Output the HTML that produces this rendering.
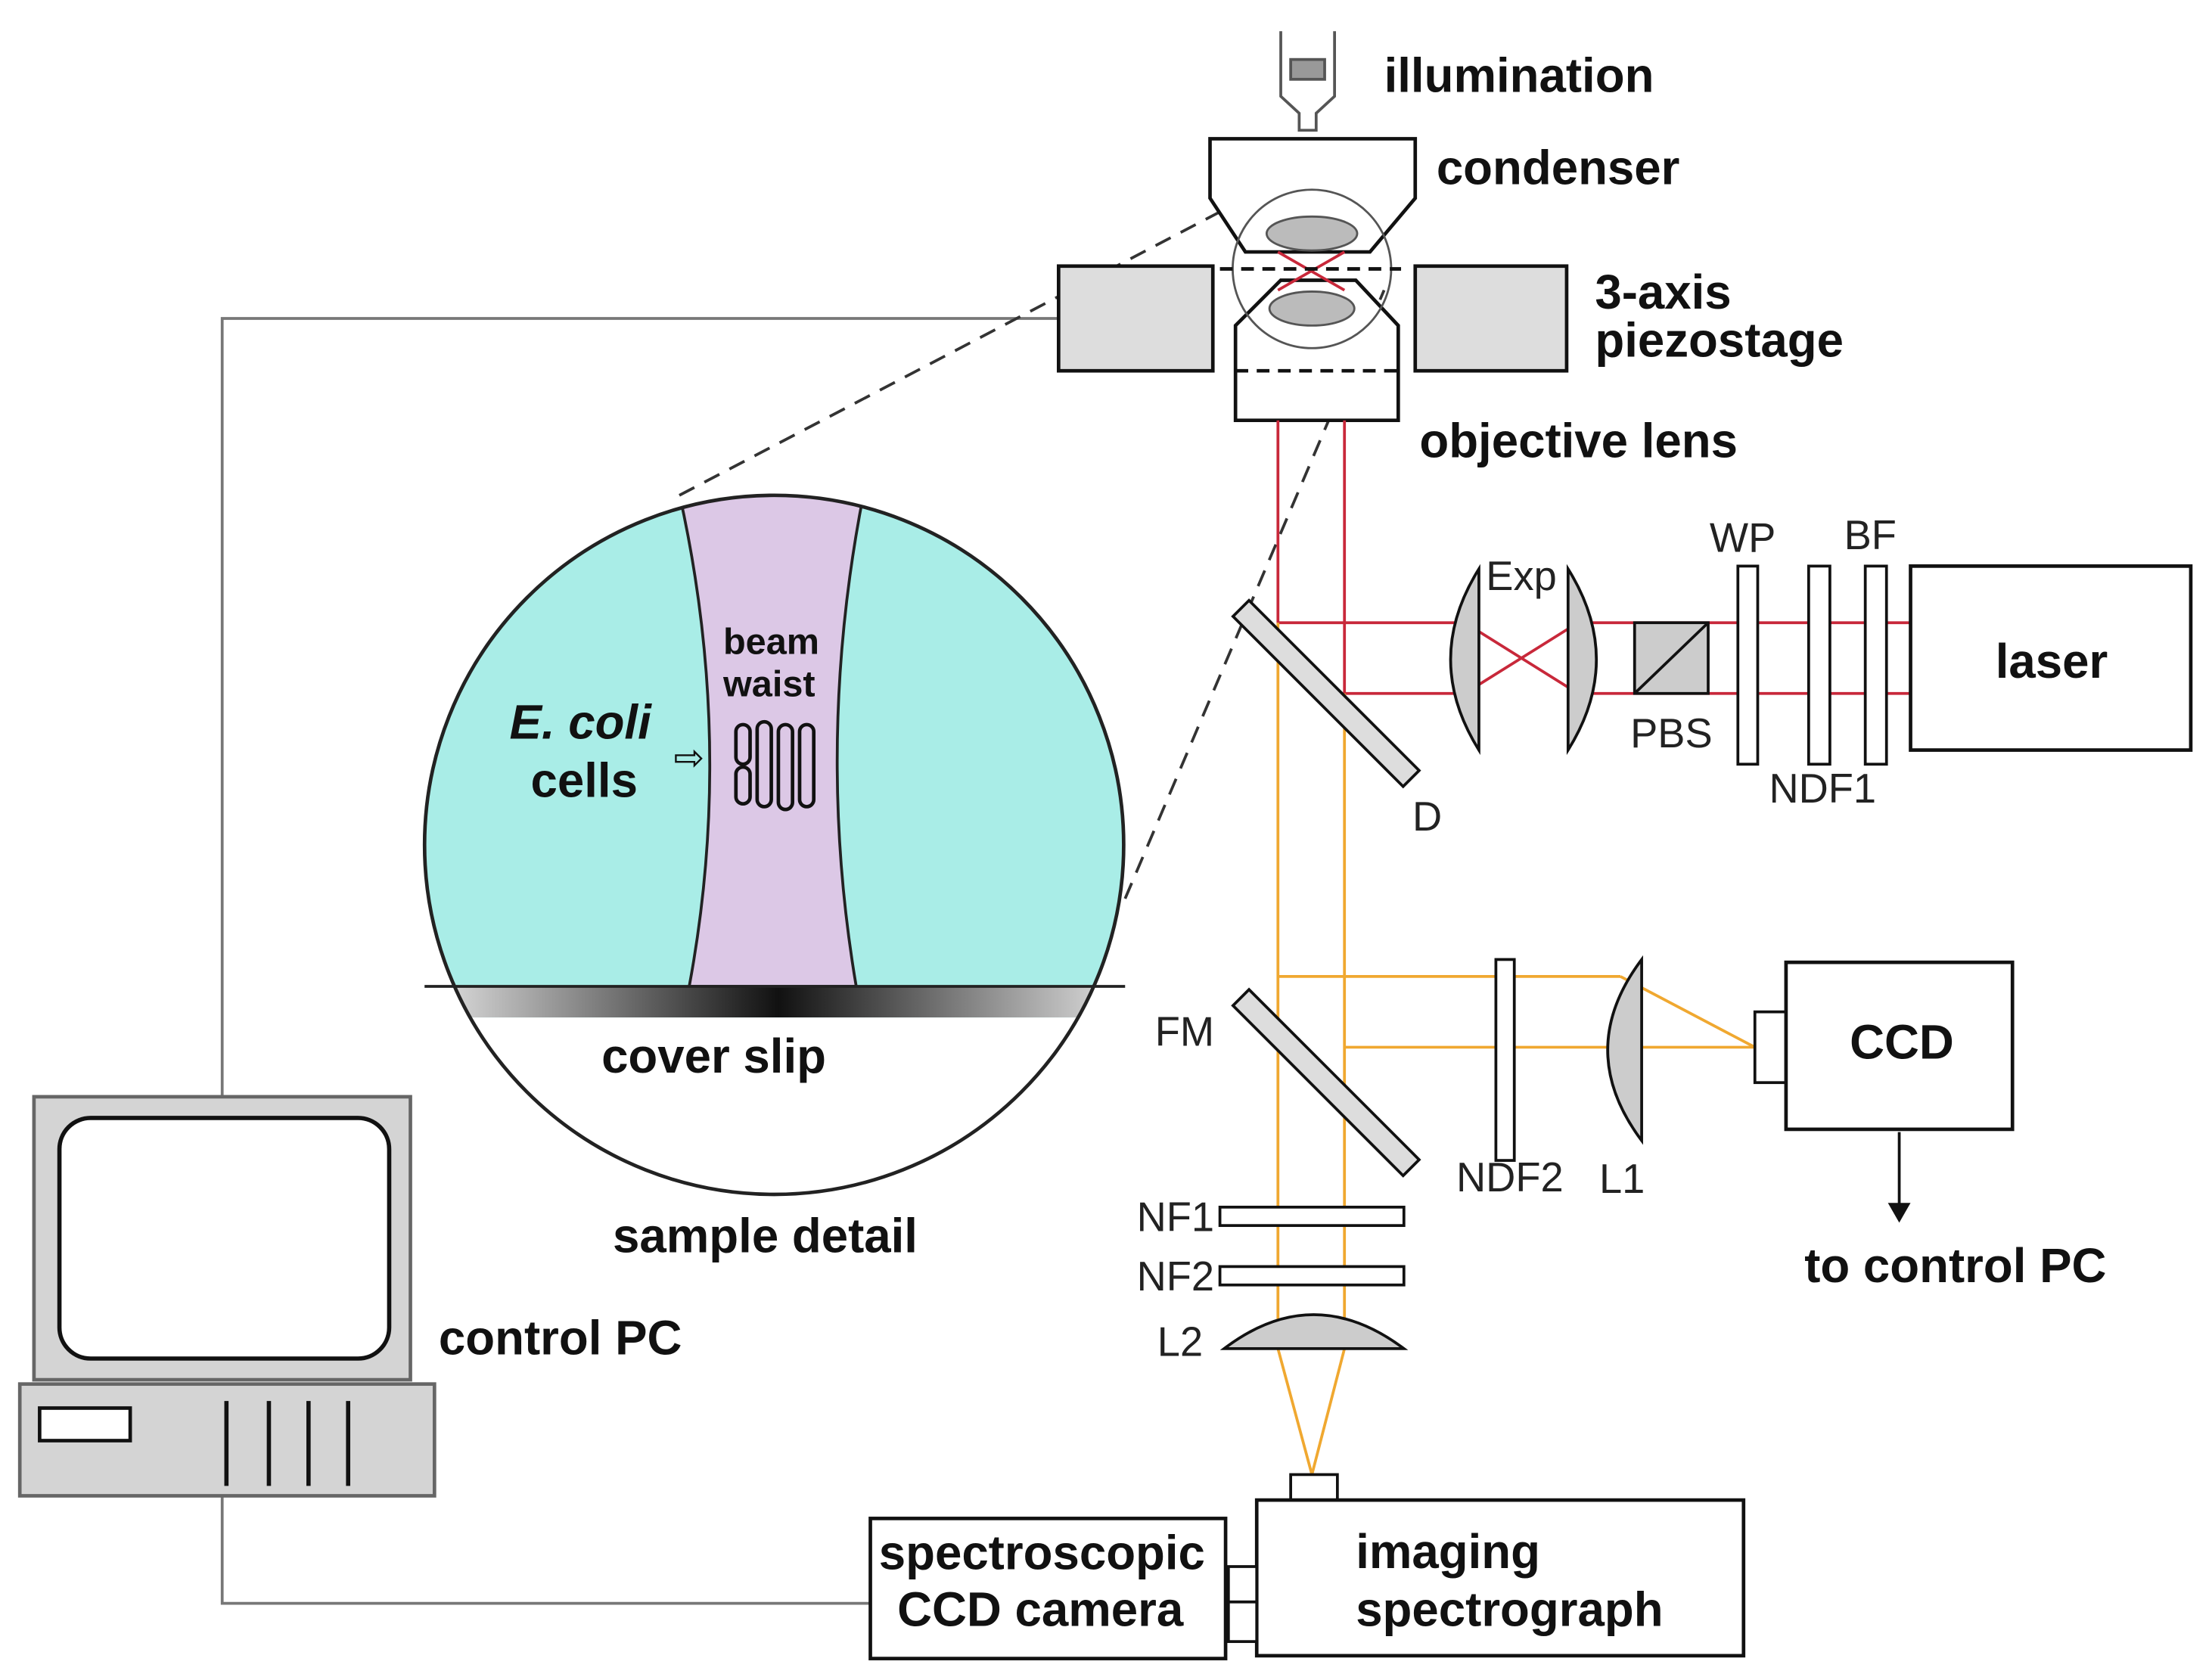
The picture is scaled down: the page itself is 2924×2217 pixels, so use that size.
<!DOCTYPE html>
<html><head><meta charset="utf-8"><style>
html,body{margin:0;padding:0;background:#fff}
svg{display:block}
text{font-family:"Liberation Sans",Arial,sans-serif}
.b{font-weight:bold;font-size:34px;fill:#111}
.r{font-size:29px;fill:#222}
</style></head><body>
<svg width="2924" height="2217" viewBox="0 0 1563 1185" xmlns="http://www.w3.org/2000/svg">
<defs>
<linearGradient id="cs" x1="0" x2="1" y1="0" y2="0">
<stop offset="0" stop-color="#eee"/><stop offset="0.5" stop-color="#111"/><stop offset="1" stop-color="#eee"/>
</linearGradient>
<clipPath id="cc"><circle cx="547" cy="597" r="247"/></clipPath>
</defs>
<rect width="1563" height="1185" fill="#fff"/>

<g stroke="#777" stroke-width="2" fill="none">
<polyline points="748,225 157,225 157,775"/>
<polyline points="157,1057 157,1133 615,1133"/>
</g>

<g stroke="#333" stroke-width="2" stroke-dasharray="12,8" fill="none">
<line x1="480" y1="350" x2="890" y2="135"/>
<line x1="795" y1="635" x2="978" y2="205"/>
</g>

<g clip-path="url(#cc)">
<rect x="290" y="340" width="520" height="510" fill="#a9ede7"/>
<path d="M478,340 L612,340 Q575,520 605,697 L487,697 Q520,520 478,340 Z" fill="#dcc8e6" stroke="#222" stroke-width="2"/>
<rect x="290" y="697" width="520" height="22" fill="url(#cs)"/>
<rect x="290" y="719" width="520" height="140" fill="#fff"/>
</g>
<circle cx="547" cy="597" r="247" fill="none" stroke="#222" stroke-width="2.5"/>
<line x1="300" y1="697" x2="795" y2="697" stroke="#222" stroke-width="2"/>
<g fill="none" stroke="#111" stroke-width="2.5">
<rect x="520" y="512" width="10" height="28" rx="5"/>
<rect x="520" y="542" width="10" height="26" rx="5"/>
<rect x="535" y="510" width="10" height="60" rx="5"/>
<rect x="550" y="512" width="10" height="60" rx="5"/>
<rect x="565" y="512" width="10" height="58" rx="5"/>
</g>
<text x="476" y="544" font-size="26" fill="#111">⇨</text>
<text class="b" x="360" y="522" font-style="italic">E. coli</text>
<text class="b" x="375" y="563">cells</text>
<text x="511" y="462" font-size="26" font-weight="bold" fill="#111">beam</text>
<text x="511" y="492" font-size="26" font-weight="bold" fill="#111">waist</text>
<text class="b" x="425" y="758">cover slip</text>
<text class="b" x="433" y="885">sample detail</text>

<g stroke="#555" stroke-width="2" fill="#fff">
<path d="M905,22 L905,68 L918,80 L918,92 L930,92 L930,80 L943,68 L943,22"/>
<rect x="912" y="42" width="24" height="14" fill="#999"/>
</g>
<text class="b" x="978" y="65">illumination</text>

<path d="M855,98 L1000,98 L1000,140 L968,178 L880,178 L855,140 Z" fill="#fff" stroke="#111" stroke-width="2.5"/>
<text class="b" x="1015" y="130">condenser</text>

<rect x="748" y="188" width="109" height="74" fill="#ddd" stroke="#111" stroke-width="2.5"/>
<rect x="1000" y="188" width="107" height="74" fill="#ddd" stroke="#111" stroke-width="2.5"/>
<text class="b" x="1127" y="218">3-axis</text>
<text class="b" x="1127" y="252">piezostage</text>

<path d="M873,297 L873,230 L905,198 L958,198 L988,230 L988,297 Z" fill="#fff" stroke="#111" stroke-width="2.5"/>
<circle cx="927" cy="190" r="56" fill="none" stroke="#555" stroke-width="1.5"/>
<ellipse cx="927" cy="165" rx="32" ry="12" fill="#bbb" stroke="#555" stroke-width="1.5"/>
<ellipse cx="927" cy="218" rx="30" ry="12" fill="#bbb" stroke="#555" stroke-width="1.5"/>
<g stroke="#c8283a" stroke-width="2"><line x1="903" y1="178" x2="950" y2="205"/><line x1="950" y1="178" x2="903" y2="205"/></g>
<g stroke="#111" stroke-width="2.5" stroke-dasharray="9,6">
<line x1="862" y1="190" x2="990" y2="190"/><line x1="873" y1="262" x2="990" y2="262"/>
</g>
<text class="b" x="1003" y="323">objective lens</text>

<g stroke="#c8283a" stroke-width="2" fill="none">
<line x1="903" y1="297" x2="903" y2="440"/>
<line x1="950" y1="297" x2="950" y2="490"/>
<line x1="903" y1="440" x2="1035" y2="440"/>
<line x1="950" y1="490" x2="1035" y2="490"/>
<line x1="1035" y1="440" x2="1115" y2="490"/>
<line x1="1035" y1="490" x2="1115" y2="440"/>
<line x1="1115" y1="440" x2="1350" y2="440"/>
<line x1="1115" y1="490" x2="1350" y2="490"/>
</g>

<g stroke="#f0a830" stroke-width="2" fill="none">
<line x1="903" y1="440" x2="903" y2="953"/>
<line x1="950" y1="490" x2="950" y2="953"/>
<line x1="903" y1="690" x2="1145" y2="690"/>
<line x1="950" y1="740" x2="1145" y2="740"/>
<line x1="1145" y1="690" x2="1240" y2="740"/>
<line x1="1145" y1="740" x2="1240" y2="740"/>
<line x1="903" y1="953" x2="927" y2="1042"/>
<line x1="950" y1="953" x2="927" y2="1042"/>
</g>

<rect x="852" y="482" width="170" height="16" fill="#ddd" stroke="#111" stroke-width="2" transform="rotate(45 937 490)"/>
<text class="r" x="998" y="587">D</text>

<path d="M1045,402 Q1005,466 1045,530 Z" fill="#ccc" stroke="#111" stroke-width="2"/>
<path d="M1108,402 Q1148,466 1108,530 Z" fill="#ccc" stroke="#111" stroke-width="2"/>
<text class="r" x="1050" y="417">Exp</text>

<rect x="1155" y="440" width="52" height="50" fill="#ccc" stroke="#111" stroke-width="2"/>
<line x1="1155" y1="490" x2="1207" y2="440" stroke="#111" stroke-width="2"/>
<text class="r" x="1152" y="528">PBS</text>

<g fill="#fff" stroke="#111" stroke-width="2">
<rect x="1228" y="400" width="14" height="140"/>
<rect x="1278" y="400" width="15" height="140"/>
<rect x="1318" y="400" width="15" height="140"/>
</g>
<text class="r" x="1208" y="390">WP</text>
<text class="r" x="1303" y="388">BF</text>
<text class="r" x="1250" y="567">NDF1</text>

<rect x="1350" y="400" width="198" height="130" fill="#fff" stroke="#111" stroke-width="2.5"/>
<text class="b" x="1410" y="479">laser</text>

<rect x="852" y="757" width="170" height="16" fill="#ddd" stroke="#111" stroke-width="2" transform="rotate(45 937 765)"/>
<text class="r" x="858" y="739" text-anchor="end">FM</text>

<rect x="1057" y="678" width="13" height="142" fill="#fff" stroke="#111" stroke-width="2"/>
<path d="M1160,678 Q1112,742 1160,806 Z" fill="#ccc" stroke="#111" stroke-width="2"/>
<text class="r" x="1029" y="842">NDF2</text>
<text class="r" x="1130" y="843">L1</text>

<rect x="1240" y="715" width="22" height="50" fill="#fff" stroke="#111" stroke-width="2"/>
<rect x="1262" y="680" width="160" height="118" fill="#fff" stroke="#111" stroke-width="2.5"/>
<text class="b" x="1307" y="748">CCD</text>
<line x1="1342" y1="800" x2="1342" y2="852" stroke="#111" stroke-width="2"/>
<path d="M1334,850 L1350,850 L1342,864 Z" fill="#111"/>
<text class="b" x="1275" y="906">to control PC</text>

<rect x="862" y="853" width="130" height="13" fill="#fff" stroke="#111" stroke-width="2"/>
<rect x="862" y="895" width="130" height="13" fill="#fff" stroke="#111" stroke-width="2"/>
<path d="M865,953 Q928,905 992,953 Z" fill="#ccc" stroke="#111" stroke-width="2"/>
<text class="r" x="858" y="870" text-anchor="end">NF1</text>
<text class="r" x="858" y="912" text-anchor="end">NF2</text>
<text class="r" x="850" y="958" text-anchor="end">L2</text>

<rect x="912" y="1042" width="33" height="18" fill="#fff" stroke="#111" stroke-width="2"/>
<rect x="888" y="1060" width="344" height="110" fill="#fff" stroke="#111" stroke-width="2.5"/>
<rect x="868" y="1107" width="20" height="25" fill="#fff" stroke="#111" stroke-width="2"/>
<rect x="868" y="1132" width="20" height="28" fill="#fff" stroke="#111" stroke-width="2"/>
<text class="b" x="958" y="1108">imaging</text>
<text class="b" x="958" y="1149">spectrograph</text>
<rect x="615" y="1073" width="251" height="99" fill="#fff" stroke="#111" stroke-width="2.5"/>
<text class="b" x="621" y="1109">spectroscopic</text>
<text class="b" x="634" y="1149">CCD camera</text>

<rect x="24" y="775" width="266" height="200" fill="#d4d4d4" stroke="#666" stroke-width="2.5"/>
<rect x="42" y="790" width="233" height="170" rx="22" fill="#fff" stroke="#111" stroke-width="3"/>
<rect x="14" y="978" width="293" height="79" fill="#d4d4d4" stroke="#666" stroke-width="2.5"/>
<rect x="28" y="995" width="64" height="23" fill="#fff" stroke="#111" stroke-width="2.5"/>
<g stroke="#111" stroke-width="3">
<line x1="160" y1="990" x2="160" y2="1050"/><line x1="190" y1="990" x2="190" y2="1050"/>
<line x1="218" y1="990" x2="218" y2="1050"/><line x1="246" y1="990" x2="246" y2="1050"/>
</g>
<text class="b" x="310" y="957">control PC</text>
</svg>
</body></html>
